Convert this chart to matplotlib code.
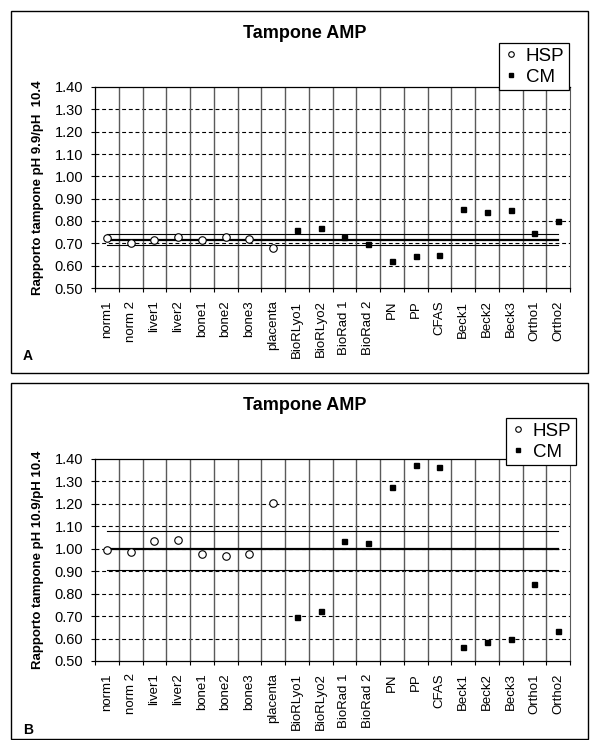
import matplotlib
matplotlib.use('Agg')
import matplotlib.pyplot as plt
from matplotlib.lines import Line2D
from matplotlib.patches import Rectangle
import numpy as np

plt.rcParams['font.family'] = ['Liberation Sans', 'DejaVu Sans']

W, H = 597, 740

categories = ['norm1', 'norm 2', 'liver1', 'liver2', 'bone1', 'bone2', 'bone3',
              'placenta', 'BioRLyo1', 'BioRLyo2', 'BioRad 1', 'BioRad 2', 'PN', 'PP',
              'CFAS', 'Beck1', 'Beck2', 'Beck3', 'Ortho1', 'Ortho2']
hsp_idx = list(range(8))
cm_idx = list(range(8, 20))

# panel A: ratio pH 9.9 / pH 10.4
hsp_a = [0.725, 0.700, 0.715, 0.727, 0.715, 0.728, 0.718, 0.678]
cm_a = [0.758, 0.767, 0.730, 0.697, 0.621, 0.645, 0.649, 0.852, 0.839, 0.848, 0.746, 0.799]
ref_a = [0.740, 0.717, 0.694]   # upper, mean, lower

# panel B: ratio pH 10.9 / pH 10.4
hsp_b = [0.994, 0.984, 1.035, 1.039, 0.975, 0.968, 0.977, 1.203]
cm_b = [0.696, 0.723, 1.035, 1.026, 1.275, 1.373, 1.364, 0.564, 0.583, 0.599, 0.842, 0.635]
ref_b = [1.079, 0.998, 0.905]

yticks = [0.50, 0.60, 0.70, 0.80, 0.90, 1.00, 1.10, 1.20, 1.30, 1.40]


def px(x0, y0, x1, y1):
	# pixel box (top-left origin) -> figure fraction rect
	return [x0 / W, 1 - y1 / H, (x1 - x0) / W, (y1 - y0) / H]


def panel(fig, rect, hsp, cm, ref, ylabel, title_y, legend_xy, box, letter, letter_y):
	ax = fig.add_axes(rect)
	x = np.arange(len(categories))
	last = len(categories) - 1

	for y in yticks[1:-1]:
		ax.axhline(y, color='black', lw=0.8, ls=(0, (3.5, 2.5)), zorder=1)
	for b in np.arange(0.5, last, 1):
		ax.axvline(b, color='#5a5a5a', lw=1.0, zorder=1)

	# reference band: upper / mean / lower
	ax.plot([0, last], [ref[0]] * 2, color='black', lw=0.8, zorder=2)
	ax.plot([0, last], [ref[1]] * 2, color='black', lw=1.6, zorder=2)
	ax.plot([0, last], [ref[2]] * 2, color='black', lw=0.8, zorder=2)

	ax.plot(hsp_idx, hsp, ls='none', marker='o', ms=5.4, mfc='white', mec='black',
			mew=0.8, zorder=3)
	ax.plot(cm_idx, cm, ls='none', marker='s', ms=3.6, mfc='black', mec='black', zorder=3)

	ax.set_xlim(-0.5, last + 0.5)
	ax.set_ylim(0.5, 1.4)
	ax.set_yticks(yticks)
	ax.set_yticklabels([f'{v:.2f}' for v in yticks], fontsize=10.5)
	ax.set_xticks(x)
	ax.set_xticklabels(categories, rotation=90, fontsize=9.5)
	ax.set_xticks(np.arange(-0.5, len(categories), 1), minor=True)
	ax.tick_params(axis='x', which='major', length=0, pad=9)
	ax.tick_params(axis='x', which='minor', length=3, width=0.8, direction='out')
	ax.tick_params(axis='y', length=3, width=0.8, pad=5.5)
	for s in ['left', 'bottom', 'top']:
		ax.spines[s].set_linewidth(0.9)
	ax.spines['right'].set_color('#5a5a5a')

	fig.text(38 / W, rect[1] + rect[3] / 2, ylabel, rotation=90, ha='center',
			 va='center', fontsize=9.5, fontweight='bold')
	fig.text(305 / W, 1 - title_y / H, 'Tampone AMP', ha='center', va='center',
			 fontsize=13, fontweight='bold')

	handles = [Line2D([], [], ls='none', marker='o', ms=4, mfc='white', mec='black', mew=0.8),
			   Line2D([], [], ls='none', marker='s', ms=3, mfc='black', mec='black')]
	leg = ax.legend(handles, ['HSP', 'CM'], loc='upper right',
					bbox_to_anchor=(legend_xy[0] / W, 1 - legend_xy[1] / H),
					bbox_transform=fig.transFigure, fontsize=13.5, frameon=True,
					fancybox=False, framealpha=1, edgecolor='black', borderpad=0.25,
					labelspacing=0.2, handlelength=0.8, handletextpad=0.4, borderaxespad=0)
	leg.get_frame().set_linewidth(0.9)
	leg.set_zorder(5)

	fig.patches.append(Rectangle((box[0] / W, 1 - box[3] / H), (box[2] - box[0]) / W,
								 (box[3] - box[1]) / H, transform=fig.transFigure,
								 fill=False, edgecolor='black', lw=1.0))
	fig.text(28 / W, 1 - letter_y / H, letter, ha='center', va='center',
			 fontsize=10, fontweight='bold')
	return ax


fig = plt.figure(figsize=(W / 100, H / 100), dpi=100)

panel(fig, px(95, 87, 570, 288), hsp_a, cm_a, ref_a,
	  'Rapporto tampone pH 9.9/pH  10.4', 33, (569, 43), (11, 11, 588, 373), 'A', 356)
panel(fig, px(95, 459, 570, 661), hsp_b, cm_b, ref_b,
	  'Rapporto tampone pH 10.9/pH 10.4', 406, (576, 418), (11, 383, 588, 739), 'B', 730)

plt.savefig('out.png', dpi=100)
